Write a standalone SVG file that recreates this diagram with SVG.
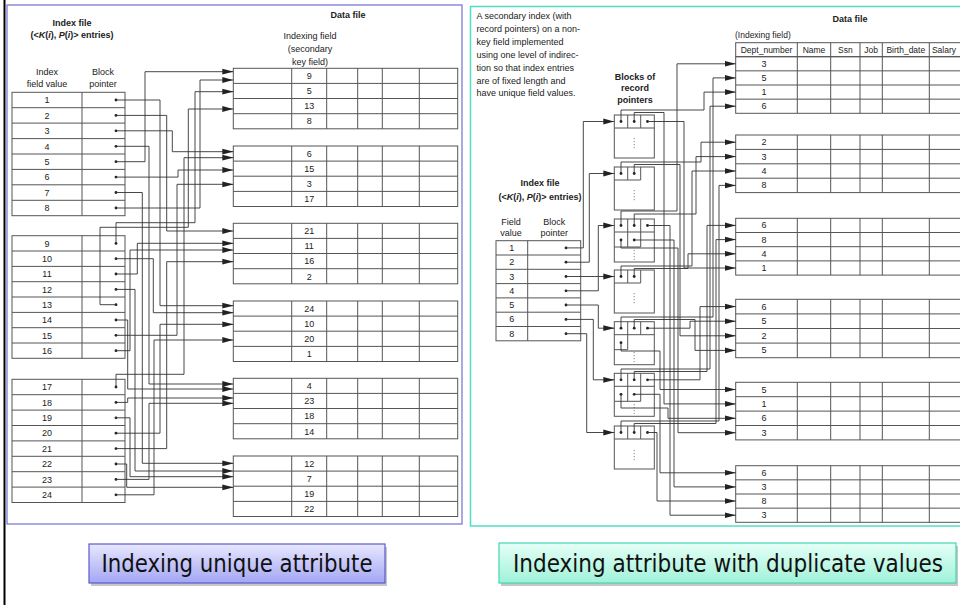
<svg xmlns="http://www.w3.org/2000/svg" width="960" height="605" viewBox="0 0 960 605">
<style>
.t{font-family:"Liberation Sans",Arial,sans-serif;font-size:9px;fill:#222}
.tc{text-anchor:middle}
.b{font-weight:bold}
.i{font-style:italic}
.g{fill:none;stroke:#555;stroke-width:1}
.c{fill:none;stroke:#333;stroke-width:0.9}
.ca{fill:none;stroke:#333;stroke-width:0.9;marker-end:url(#ah)}
.d{fill:#222}
.lbl{font-family:"DejaVu Sans Condensed","DejaVu Sans",sans-serif;font-size:24px;fill:#111}
</style>
<defs>
<marker id="ah" markerUnits="userSpaceOnUse" markerWidth="11" markerHeight="7" refX="11" refY="3.5" orient="auto"><path d="M0,0.6 L11,3.5 L0,6.4 z" fill="#222"/></marker>
<linearGradient id="gL" x1="0" y1="0" x2="0" y2="1"><stop offset="0" stop-color="#e8e8ff"/><stop offset="1" stop-color="#a3a6f4"/></linearGradient>
<linearGradient id="gR" x1="0" y1="0" x2="0" y2="1"><stop offset="0" stop-color="#e6fff7"/><stop offset="1" stop-color="#9ff2d8"/></linearGradient>
</defs>
<rect x="0" y="0" width="960" height="605" fill="#fff"/>
<line x1="4.5" y1="0" x2="4.5" y2="605" stroke="#000" stroke-width="2"/>

<!-- panels -->
<rect id="panel-left" x="7" y="5" width="455" height="519" fill="none" stroke="#7b7bd6" stroke-width="1.3"/>
<rect id="panel-right" x="470.5" y="6.5" width="500" height="519.5" fill="none" stroke="#4fe0c3" stroke-width="1.5"/>

<!-- LEFT: index file -->
<g id="left-index">
<text class="t b tc" x="72" y="26">Index file</text>
<text class="t b tc" x="72" y="38">(&lt;<tspan class="i">K</tspan>(<tspan class="i">i</tspan>), <tspan class="i">P</tspan>(<tspan class="i">i</tspan>)&gt; entries)</text>
<text class="t tc" x="47" y="75">Index</text>
<text class="t tc" x="47" y="87">field value</text>
<text class="t tc" x="103" y="75">Block</text>
<text class="t tc" x="103" y="87">pointer</text>
<g id="left-index-t1">
<rect class="g" x="12" y="92.3" width="113" height="123.4"/>
<path class="g" d="M82,92.3V215.7M12,107.7H125M12,123.1H125M12,138.6H125M12,154H125M12,169.4H125M12,184.8H125M12,200.3H125"/>
<g class="t tc"><text x="47" y="103.2">1</text><text x="47" y="118.6">2</text><text x="47" y="134">3</text><text x="47" y="149.5">4</text><text x="47" y="164.9">5</text><text x="47" y="180.3">6</text><text x="47" y="195.7">7</text><text x="47" y="211.2">8</text></g>
</g>
<g id="left-index-t2">
<rect class="g" x="12" y="235.7" width="113" height="122.6"/>
<path class="g" d="M82,235.7V358.3M12,251H125M12,266.4H125M12,281.7H125M12,297H125M12,312.4H125M12,327.7H125M12,343H125"/>
<g class="t tc"><text x="47" y="246.6">9</text><text x="47" y="261.9">10</text><text x="47" y="277.2">11</text><text x="47" y="292.6">12</text><text x="47" y="307.9">13</text><text x="47" y="323.2">14</text><text x="47" y="338.5">15</text><text x="47" y="353.9">16</text></g>
</g>
<g id="left-index-t3">
<rect class="g" x="12" y="379.3" width="113" height="123.2"/>
<path class="g" d="M82,379.3V502.5M12,394.7H125M12,410.1H125M12,425.5H125M12,440.9H125M12,456.3H125M12,471.7H125M12,487.1H125"/>
<g class="t tc"><text x="47" y="390.2">17</text><text x="47" y="405.6">18</text><text x="47" y="421">19</text><text x="47" y="436.4">20</text><text x="47" y="451.8">21</text><text x="47" y="467.2">22</text><text x="47" y="482.6">23</text><text x="47" y="498">24</text></g>
</g>
<g class="d">
<circle cx="116" cy="100" r="1.4"/><circle cx="116" cy="115.4" r="1.4"/><circle cx="116" cy="130.8" r="1.4"/><circle cx="116" cy="146.3" r="1.4"/><circle cx="116" cy="161.7" r="1.4"/><circle cx="116" cy="177.1" r="1.4"/><circle cx="116" cy="192.5" r="1.4"/><circle cx="116" cy="208" r="1.4"/>
<circle cx="116" cy="243.4" r="1.4"/><circle cx="116" cy="258.7" r="1.4"/><circle cx="116" cy="274" r="1.4"/><circle cx="116" cy="289.4" r="1.4"/><circle cx="116" cy="304.7" r="1.4"/><circle cx="116" cy="320" r="1.4"/><circle cx="116" cy="335.3" r="1.4"/><circle cx="116" cy="350.7" r="1.4"/>
<circle cx="116" cy="387" r="1.4"/><circle cx="116" cy="402.4" r="1.4"/><circle cx="116" cy="417.8" r="1.4"/><circle cx="116" cy="433.2" r="1.4"/><circle cx="116" cy="448.6" r="1.4"/><circle cx="116" cy="464" r="1.4"/><circle cx="116" cy="479.4" r="1.4"/><circle cx="116" cy="494.8" r="1.4"/>
</g>
</g>

<!-- LEFT: data file -->
<g id="left-data">
<text class="t b tc" x="348" y="18">Data file</text>
<text class="t tc" x="310" y="38.5">Indexing field</text>
<text class="t tc" x="310" y="52">(secondary</text>
<text class="t tc" x="310" y="64.5">key field)</text>
<g id="ld1"><rect class="g" x="233.3" y="68.3" width="224.4" height="60.5"/><path class="g" d="M291.7,68.3V128.8M326.7,68.3V128.8M357.7,68.3V128.8M382.3,68.3V128.8M419.3,68.3V128.8M233.3,83.4H457.7M233.3,98.5H457.7M233.3,113.7H457.7"/>
<g class="t tc"><text x="309.2" y="79.1">9</text><text x="309.2" y="94.2">5</text><text x="309.2" y="109.3">13</text><text x="309.2" y="124.4">8</text></g></g>
<g id="ld2"><rect class="g" x="233.3" y="146" width="224.4" height="60.5"/><path class="g" d="M291.7,146V206.5M326.7,146V206.5M357.7,146V206.5M382.3,146V206.5M419.3,146V206.5M233.3,161.1H457.7M233.3,176.2H457.7M233.3,191.4H457.7"/>
<g class="t tc"><text x="309.2" y="156.8">6</text><text x="309.2" y="171.9">15</text><text x="309.2" y="187">3</text><text x="309.2" y="202.2">17</text></g></g>
<g id="ld3"><rect class="g" x="233.3" y="223.3" width="224.4" height="60.5"/><path class="g" d="M291.7,223.3V283.8M326.7,223.3V283.8M357.7,223.3V283.8M382.3,223.3V283.8M419.3,223.3V283.8M233.3,238.4H457.7M233.3,253.5H457.7M233.3,268.7H457.7"/>
<g class="t tc"><text x="309.2" y="234.1">21</text><text x="309.2" y="249.2">11</text><text x="309.2" y="264.3">16</text><text x="309.2" y="279.5">2</text></g></g>
<g id="ld4"><rect class="g" x="233.3" y="301" width="224.4" height="60.5"/><path class="g" d="M291.7,301V361.5M326.7,301V361.5M357.7,301V361.5M382.3,301V361.5M419.3,301V361.5M233.3,316.1H457.7M233.3,331.2H457.7M233.3,346.4H457.7"/>
<g class="t tc"><text x="309.2" y="311.8">24</text><text x="309.2" y="326.9">10</text><text x="309.2" y="342">20</text><text x="309.2" y="357.2">1</text></g></g>
<g id="ld5"><rect class="g" x="233.3" y="378.3" width="224.4" height="60.5"/><path class="g" d="M291.7,378.3V438.8M326.7,378.3V438.8M357.7,378.3V438.8M382.3,378.3V438.8M419.3,378.3V438.8M233.3,393.4H457.7M233.3,408.5H457.7M233.3,423.7H457.7"/>
<g class="t tc"><text x="309.2" y="389.1">4</text><text x="309.2" y="404.2">23</text><text x="309.2" y="419.3">18</text><text x="309.2" y="434.5">14</text></g></g>
<g id="ld6"><rect class="g" x="233.3" y="456" width="224.4" height="60.5"/><path class="g" d="M291.7,456V516.5M326.7,456V516.5M357.7,456V516.5M382.3,456V516.5M419.3,456V516.5M233.3,471.1H457.7M233.3,486.2H457.7M233.3,501.4H457.7"/>
<g class="t tc"><text x="309.2" y="466.8">12</text><text x="309.2" y="481.9">7</text><text x="309.2" y="497">19</text><text x="309.2" y="512.2">22</text></g></g>
</g>

<!-- LEFT connectors -->
<g id="left-connectors">
<path class="ca" d="M116,100H160V305.7H233.3"/>
<path class="ca" d="M116,115.4H166.7V231H233.3"/>
<path class="ca" d="M116,130.8H172.3V151.7H233.3"/>
<path class="ca" d="M116,146.3H149V384H233.3"/>
<path class="ca" d="M116,161.7H145V71.7H233.3"/>
<path class="ca" d="M116,177.1H178V170H233.3"/>
<path class="ca" d="M116,192.5H142.3V463.3H233.3"/>
<path class="ca" d="M116,208H200V80H233.3"/>
<path class="ca" d="M116,243.4V222.7H195V91.7H233.3"/>
<path class="ca" d="M116,258.7H153.3V312.7H233.3"/>
<path class="ca" d="M116,274H137.3V243.3H233.3"/>
<path class="ca" d="M116,289.4H135V471H233.3"/>
<path class="ca" d="M116,304.7H100V227.3H188.3V109H233.3"/>
<path class="ca" d="M116,320H127.7V389H233.3"/>
<path class="ca" d="M116,335.3H177V184.3H233.3"/>
<path class="ca" d="M116,350.7H130V250H233.3"/>
<path class="ca" d="M116,387V374.3H184V157.7H233.3"/>
<path class="ca" d="M116,402.4H127.7V398H233.3"/>
<path class="ca" d="M116,417.8H130V476.7H233.3"/>
<path class="ca" d="M116,433.2H160V324.3H233.3"/>
<path class="ca" d="M116,448.6H166.7V261.7H233.3"/>
<path class="ca" d="M116,464H126.7V487.3H233.3"/>
<path class="ca" d="M116,479.4H149V403.3H233.3"/>
<path class="ca" d="M116,494.8H154V340H233.3"/>
</g>

<!-- RIGHT: caption -->
<g id="right-caption" class="t">
<text x="476.5" y="19">A secondary index (with</text>
<text x="476.5" y="32">record pointers) on a non-</text>
<text x="476.5" y="45">key field implemented</text>
<text x="476.5" y="58">using one level of indirec-</text>
<text x="476.5" y="71">tion so that index entries</text>
<text x="476.5" y="83.5">are of fixed length and</text>
<text x="476.5" y="95.5">have unique field values.</text>
</g>

<!-- RIGHT: index file -->
<g id="right-index">
<text class="t b tc" x="540" y="186">Index file</text>
<text class="t b tc" x="540" y="200">(&lt;<tspan class="i">K</tspan>(<tspan class="i">i</tspan>), <tspan class="i">P</tspan>(<tspan class="i">i</tspan>)&gt; entries)</text>
<text class="t tc" x="511" y="225">Field</text>
<text class="t tc" x="511" y="236">value</text>
<text class="t tc" x="554.3" y="225">Block</text>
<text class="t tc" x="554.3" y="236">pointer</text>
<rect class="g" x="496" y="240.7" width="84.7" height="100.1"/>
<path class="g" d="M527.7,240.7V340.8M496,255H580.7M496,269.3H580.7M496,283.6H580.7M496,297.9H580.7M496,312.2H580.7M496,326.5H580.7"/>
<g class="t tc"><text x="511.8" y="250.9">1</text><text x="511.8" y="265.2">2</text><text x="511.8" y="279.5">3</text><text x="511.8" y="293.8">4</text><text x="511.8" y="308.1">5</text><text x="511.8" y="322.4">6</text><text x="511.8" y="336.7">8</text></g>
<g class="d"><circle cx="566" cy="247.9" r="1.4"/><circle cx="566" cy="262.2" r="1.4"/><circle cx="566" cy="276.5" r="1.4"/><circle cx="566" cy="290.8" r="1.4"/><circle cx="566" cy="305" r="1.4"/><circle cx="566" cy="319.4" r="1.4"/><circle cx="566" cy="333.7" r="1.4"/></g>
</g>

<!-- RIGHT: blocks of record pointers -->
<g id="right-pointer-blocks">
<text class="t b tc" x="635" y="79.5">Blocks of</text>
<text class="t b tc" x="635" y="91">record</text>
<text class="t b tc" x="635" y="102.5">pointers</text>
<g id="pb1"><rect class="g" x="614.3" y="115" width="40" height="43"/><path class="g" d="M614.3,128H654.3M627.7,115V128M640.7,115V128"/><path d="M634.2,138V150" stroke="#777" stroke-width="0.9" stroke-dasharray="1.2,1.8"/><g class="d"><circle cx="621" cy="121.5" r="1.4"/><circle cx="634.2" cy="121.5" r="1.4"/><circle cx="647.5" cy="121.5" r="1.4"/></g></g>
<g id="pb2"><rect class="g" x="614.3" y="167" width="40" height="43"/><path class="g" d="M614.3,180H640.7M627.7,167V180M640.7,167V180"/><path d="M634.2,190V202" stroke="#777" stroke-width="0.9" stroke-dasharray="1.2,1.8"/><g class="d"><circle cx="621" cy="173.5" r="1.4"/><circle cx="634.2" cy="173.5" r="1.4"/></g></g>
<g id="pb3"><rect class="g" x="614.3" y="219" width="40" height="43"/><path class="g" d="M614.3,232H654.3M627.7,219V247M640.7,219V247M614.3,247H640.7"/><path d="M634.2,250V260" stroke="#777" stroke-width="0.9" stroke-dasharray="1.2,1.8"/><g class="d"><circle cx="621" cy="225.5" r="1.4"/><circle cx="634.2" cy="225.5" r="1.4"/><circle cx="647.5" cy="225.5" r="1.4"/><circle cx="621" cy="240" r="1.4"/><circle cx="634.2" cy="240" r="1.4"/></g></g>
<g id="pb4"><rect class="g" x="614.3" y="270" width="40" height="43"/><path class="g" d="M614.3,283H640.7M627.7,270V283M640.7,270V283"/><path d="M634.2,293V305" stroke="#777" stroke-width="0.9" stroke-dasharray="1.2,1.8"/><g class="d"><circle cx="621" cy="276.5" r="1.4"/><circle cx="634.2" cy="276.5" r="1.4"/></g></g>
<g id="pb5"><rect class="g" x="614.3" y="321.7" width="40" height="43"/><path class="g" d="M614.3,334.7H654.3M627.7,321.7V349.7M640.7,321.7V334.7M614.3,349.7H627.7"/><path d="M634.2,352V362" stroke="#777" stroke-width="0.9" stroke-dasharray="1.2,1.8"/><g class="d"><circle cx="621" cy="328.2" r="1.4"/><circle cx="634.2" cy="328.2" r="1.4"/><circle cx="647.5" cy="328.2" r="1.4"/><circle cx="621" cy="342.7" r="1.4"/></g></g>
<g id="pb6"><rect class="g" x="614.3" y="373.3" width="40" height="43"/><path class="g" d="M614.3,386.3H654.3M627.7,373.3V401.3M640.7,373.3V401.3M614.3,401.3H640.7"/><path d="M634.2,404V414" stroke="#777" stroke-width="0.9" stroke-dasharray="1.2,1.8"/><g class="d"><circle cx="621" cy="379.8" r="1.4"/><circle cx="634.2" cy="379.8" r="1.4"/><circle cx="647.5" cy="379.8" r="1.4"/><circle cx="621" cy="394.3" r="1.4"/><circle cx="634.2" cy="394.3" r="1.4"/></g></g>
<g id="pb7"><rect class="g" x="614.3" y="426" width="40" height="43"/><path class="g" d="M614.3,439H654.3M627.7,426V439M640.7,426V439"/><path d="M634.2,450V462" stroke="#777" stroke-width="0.9" stroke-dasharray="1.2,1.8"/><g class="d"><circle cx="621" cy="432.5" r="1.4"/><circle cx="634.2" cy="432.5" r="1.4"/><circle cx="647.5" cy="432.5" r="1.4"/></g></g>
</g>

<!-- RIGHT: data file -->
<g id="right-data">
<text class="t b tc" x="850" y="21.5">Data file</text>
<text class="t" x="735" y="38" style="font-size:8.5px">(Indexing field)</text>
<rect class="g" x="735.7" y="42.7" width="240" height="14"/>
<path class="g" d="M797.3,42.7V56.7M830.7,42.7V56.7M860,42.7V56.7M882.3,42.7V56.7M929.3,42.7V56.7"/>
<g class="t tc" style="font-size:8.5px"><text x="766.5" y="53">Dept_number</text><text x="814" y="53">Name</text><text x="845.3" y="53">Ssn</text><text x="871.2" y="53">Job</text><text x="905.8" y="53">Birth_date</text><text x="944" y="53">Salary</text></g>
<g id="rd1"><rect class="g" x="735.7" y="56.7" width="240" height="56.6"/><path class="g" d="M797.3,56.7V113.3M830.7,56.7V113.3M860,56.7V113.3M882.3,56.7V113.3M929.3,56.7V113.3M735.7,70.85H975.7M735.7,85H975.7M735.7,99.15H975.7"/>
<g class="t tc"><text x="764" y="66.8">3</text><text x="764" y="80.9">5</text><text x="764" y="95.1">1</text><text x="764" y="109.2">6</text></g></g>
<g id="rd2"><rect class="g" x="735.7" y="135" width="240" height="57.6"/><path class="g" d="M797.3,135V192.6M830.7,135V192.6M860,135V192.6M882.3,135V192.6M929.3,135V192.6M735.7,149.4H975.7M735.7,163.8H975.7M735.7,178.2H975.7"/>
<g class="t tc"><text x="764" y="145.2">2</text><text x="764" y="159.6">3</text><text x="764" y="174">4</text><text x="764" y="188.4">8</text></g></g>
<g id="rd3"><rect class="g" x="735.7" y="218.3" width="240" height="56.8"/><path class="g" d="M797.3,218.3V275.1M830.7,218.3V275.1M860,218.3V275.1M882.3,218.3V275.1M929.3,218.3V275.1M735.7,232.5H975.7M735.7,246.7H975.7M735.7,260.9H975.7"/>
<g class="t tc"><text x="764" y="228.4">6</text><text x="764" y="242.6">8</text><text x="764" y="256.8">4</text><text x="764" y="271">1</text></g></g>
<g id="rd4"><rect class="g" x="735.7" y="299.3" width="240" height="58.4"/><path class="g" d="M797.3,299.3V357.7M830.7,299.3V357.7M860,299.3V357.7M882.3,299.3V357.7M929.3,299.3V357.7M735.7,313.9H975.7M735.7,328.5H975.7M735.7,343.1H975.7"/>
<g class="t tc"><text x="764" y="309.6">6</text><text x="764" y="324.2">5</text><text x="764" y="338.8">2</text><text x="764" y="353.4">5</text></g></g>
<g id="rd5"><rect class="g" x="735.7" y="382.3" width="240" height="57.6"/><path class="g" d="M797.3,382.3V439.9M830.7,382.3V439.9M860,382.3V439.9M882.3,382.3V439.9M929.3,382.3V439.9M735.7,396.7H975.7M735.7,411.1H975.7M735.7,425.5H975.7"/>
<g class="t tc"><text x="764" y="392.5">5</text><text x="764" y="406.9">1</text><text x="764" y="421.3">6</text><text x="764" y="435.7">3</text></g></g>
<g id="rd6"><rect class="g" x="735.7" y="465.7" width="240" height="56.6"/><path class="g" d="M797.3,465.7V522.3M830.7,465.7V522.3M860,465.7V522.3M882.3,465.7V522.3M929.3,465.7V522.3M735.7,479.85H975.7M735.7,494H975.7M735.7,508.15H975.7"/>
<g class="t tc"><text x="764" y="475.8">6</text><text x="764" y="489.9">3</text><text x="764" y="504">8</text><text x="764" y="518.2">3</text></g></g>
</g>

<!-- RIGHT connectors -->
<g id="right-connectors">
<path class="ca" d="M566,247.9H583.3V121.5H614.3"/>
<path class="ca" d="M566,262.2H589.3V173.5H614.3"/>
<path class="ca" d="M566,276.5H598.3V225.5H614.3"/>
<path class="ca" d="M566,290.8H598.3V276.5H614.3"/>
<path class="ca" d="M566,305H598.3V328.2H614.3"/>
<path class="ca" d="M566,319.4H593.3V379.8H614.3"/>
<path class="ca" d="M566,333.7H586.7V432.5H614.3"/>

<path class="ca" d="M621,225.5V211H677V63.8H735.7"/>
<path class="ca" d="M621,328.2V317H713V77.9H735.7"/>
<path class="ca" d="M621,121.5V110H704V92.1H735.7"/>
<path class="ca" d="M621,379.8V369H710V106.2H735.7"/>
<path class="ca" d="M621,173.5V162H701V142.2H735.7"/>
<path class="ca" d="M634.2,225.5V214H696V156.6H735.7"/>
<path class="ca" d="M621,276.5V266H692V171H735.7"/>
<path class="ca" d="M621,432.5V421H719V185.4H735.7"/>
<path class="ca" d="M634.2,379.8V371.5H707V225.4H735.7"/>
<path class="ca" d="M634.2,432.5V423.5H716V239.6H735.7"/>
<path class="ca" d="M634.2,276.5V268.5H688V253.8H735.7"/>
<path class="ca" d="M647.5,121.5H684V268H735.7"/>
<path class="ca" d="M647.5,379.8H700V306.6H735.7"/>
<path class="ca" d="M647.5,328.2H690V321.2H735.7"/>
<path class="ca" d="M634.2,173.5V164.5H680V335.8H735.7"/>
<path class="ca" d="M634.2,328.2V319.5H695V350.4H735.7"/>
<path class="ca" d="M621,342.7V351H660V389.5H735.7"/>
<path class="ca" d="M634.2,121.5V112.5H664V403.9H735.7"/>
<path class="ca" d="M621,394.3V408H668V418.3H735.7"/>
<path class="ca" d="M621,240V248H678V432.7H735.7"/>
<path class="ca" d="M634.2,394.3H660V472.8H735.7"/>
<path class="ca" d="M634.2,240H674V486.9H735.7"/>
<path class="ca" d="M647.5,432.5H657V501H735.7"/>
<path class="ca" d="M647.5,225.5H670V515.2H735.7"/>
</g>

<!-- Bottom labels -->
<g id="label-left">
<rect x="91" y="547" width="296" height="39" fill="#000" opacity="0.22"/>
<rect x="89" y="544" width="296" height="39" fill="url(#gL)" stroke="#5a5ad0" stroke-width="1.2"/>
<text class="lbl" x="237" y="571.5" text-anchor="middle" textLength="271" lengthAdjust="spacingAndGlyphs">Indexing unique attribute</text>
</g>
<g id="label-right">
<rect x="501" y="546" width="457" height="40" fill="#000" opacity="0.22"/>
<rect x="499" y="543" width="457" height="40" fill="url(#gR)" stroke="#40d8b0" stroke-width="1.2"/>
<text class="lbl" x="728" y="571.5" text-anchor="middle" textLength="430" lengthAdjust="spacingAndGlyphs">Indexing attribute with duplicate values</text>
</g>
</svg>
